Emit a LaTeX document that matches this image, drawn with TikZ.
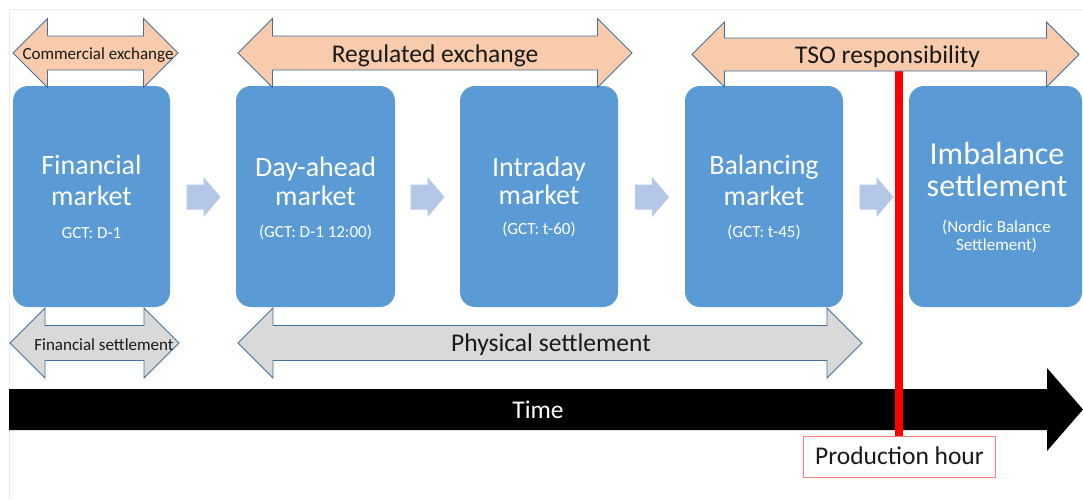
\documentclass[tikz,border=0pt]{standalone}
\usepackage{fontspec}
\setmainfont{Carlito}
\usetikzlibrary{calc}

\definecolor{boxblue}{HTML}{5B9BD5}
\definecolor{stepblue}{HTML}{B4C7E7}
\definecolor{peach}{HTML}{F8CBAD}
\definecolor{settlegray}{HTML}{D9D9D9}
\definecolor{edgeblue}{HTML}{41719C}
\definecolor{prodred}{HTML}{FF7C80}
\definecolor{hourred}{HTML}{FF0000}
\definecolor{framegray}{HTML}{EBEBEB}

% two-headed block arrow: style, left tip x, right tip x, centre y, head half-height, shaft half-height
\newcommand{\twowayarrow}[6]{%
  \path[#1] (#2,#4) -- (#2+#5,#4-#5) -- (#2+#5,#4-#6) -- (#3-#5,#4-#6)
    -- (#3-#5,#4-#5) -- (#3,#4) -- (#3-#5,#4+#5) -- (#3-#5,#4+#6)
    -- (#2+#5,#4+#6) -- (#2+#5,#4+#5) -- cycle;}
% small step arrow between market boxes: start x, centre y
\newcommand{\steparrow}[2]{%
  \path[stepfill] (#1,#2-12.5) -- (#1+17,#2-12.5) -- (#1+17,#2-20) -- (#1+34,#2)
    -- (#1+17,#2+20) -- (#1+17,#2+12.5) -- (#1,#2+12.5) -- cycle;}

\begin{document}
\begin{tikzpicture}[x=1pt,y=-1pt,
  mkt/.style={fill=boxblue, rounded corners=15pt, minimum height=221pt, inner sep=0pt},
  bigtxt/.style={text=white, anchor=base, inner sep=0pt, font=\fontsize{28}{32}\selectfont},
  hugetxt/.style={text=white, anchor=base, inner sep=0pt, font=\fontsize{32}{36}\selectfont},
  smalltxt/.style={text=white, anchor=base, inner sep=0pt, font=\fontsize{17}{20}\selectfont},
  exchfill/.style={fill=peach, draw=edgeblue, line width=0.9pt, line join=miter},
  settlefill/.style={fill=settlegray, draw=edgeblue, line width=0.9pt, line join=miter},
  stepfill/.style={fill=stepblue},
  lbl/.style={text=black!90, anchor=base, inner sep=0pt, font=\fontsize{25.5}{30}\selectfont},
  lblsmall/.style={text=black!90, anchor=base, inner sep=0pt, font=\fontsize{17}{20}\selectfont},
]
\useasboundingbox (0,0) rectangle (1083,499);
\fill[white] (0,0) rectangle (1083,499);
\draw[framegray, line width=0.8pt] (1083,9) -- (9,9) -- (9,499);

% market boxes
\node[mkt, minimum width=157pt] (fin) at (91.5,196.5) {};
\node[mkt, minimum width=159pt] (dam) at (315.5,196.5) {};
\node[mkt, minimum width=158pt] (idm) at (539,196.5) {};
\node[mkt, minimum width=158pt] (bal) at (764,196.5) {};
\node[mkt, minimum width=173pt] (imb) at (995.5,196.5) {};

\node[bigtxt] (fin-t1) at (91.5,174.5) {Financial};
\node[bigtxt] (fin-t2) at (91.5,205) {market};
\node[smalltxt] (fin-s) at (91.5,238) {GCT: D-1};

\node[bigtxt] (dam-t1) at (315.5,176) {Day-ahead};
\node[bigtxt] (dam-t2) at (315.5,205) {market};
\node[smalltxt] (dam-s) at (315.5,237.5) {(GCT: D-1 12:00)};

\node[bigtxt] (idm-t1) at (539,176.5) {Intraday};
\node[bigtxt] (idm-t2) at (539,204) {market};
\node[smalltxt] (idm-s) at (539,234) {(GCT: t-60)};

\node[bigtxt] (bal-t1) at (764,174.5) {Balancing};
\node[bigtxt] (bal-t2) at (764,205) {market};
\node[smalltxt] (bal-s) at (764,237) {(GCT: t-45)};

\node[hugetxt] (imb-t1) at (997,164) {Imbalance};
\node[hugetxt] (imb-t2) at (997,196.5) {settlement};
\node[smalltxt] (imb-s1) at (996.5,232.5) {(Nordic Balance};
\node[smalltxt] (imb-s2) at (996.5,250.5) {Settlement)};

% step arrows between the boxes
\steparrow{186.5}{197}
\steparrow{410.5}{197}
\steparrow{635}{197}
\steparrow{859.5}{197}

% exchange arrows
\twowayarrow{exchfill}{13}{178}{53}{34.5}{17}
\node[lblsmall] (comm) at (98,59) {Commercial exchange};
\twowayarrow{exchfill}{238}{632}{53}{34.5}{17}
\node[lbl] (reg) at (435,62) {Regulated exchange};

% settlement arrows
\twowayarrow{settlefill}{10}{179}{343}{35}{17.5}
\node[lblsmall] (finset) at (104,350) {Financial settlement};
\twowayarrow{settlefill}{238}{862}{343}{35}{17.5}
\node[lbl] (physset) at (551,351) {Physical settlement};

% time axis
\fill[black] (9,389) -- (1047,389) -- (1047,368) -- (1083,409.5)
  -- (1047,451) -- (1047,430) -- (9,430) -- cycle;
\node[lbl, text=white] (time) at (538,418.5) {Time};

% production hour marker
\node[draw=prodred, fill=white, line width=1pt, minimum width=192pt,
  minimum height=41pt, inner sep=0pt] (prod) at (899,456.5) {};
\node[lbl] (prod-t) at (899.5,464) {Production hour};
\coordinate (hourtop) at (899,60);
\draw[hourred, line width=8pt] (hourtop) -- (prod.north);

% TSO responsibility arrow, drawn over the top of the hour line
\twowayarrow{exchfill}{692}{1079}{54.5}{32.5}{16.5}
\node[lbl] (tso) at (887.5,63) {TSO responsibility};
\end{tikzpicture}
\end{document}
